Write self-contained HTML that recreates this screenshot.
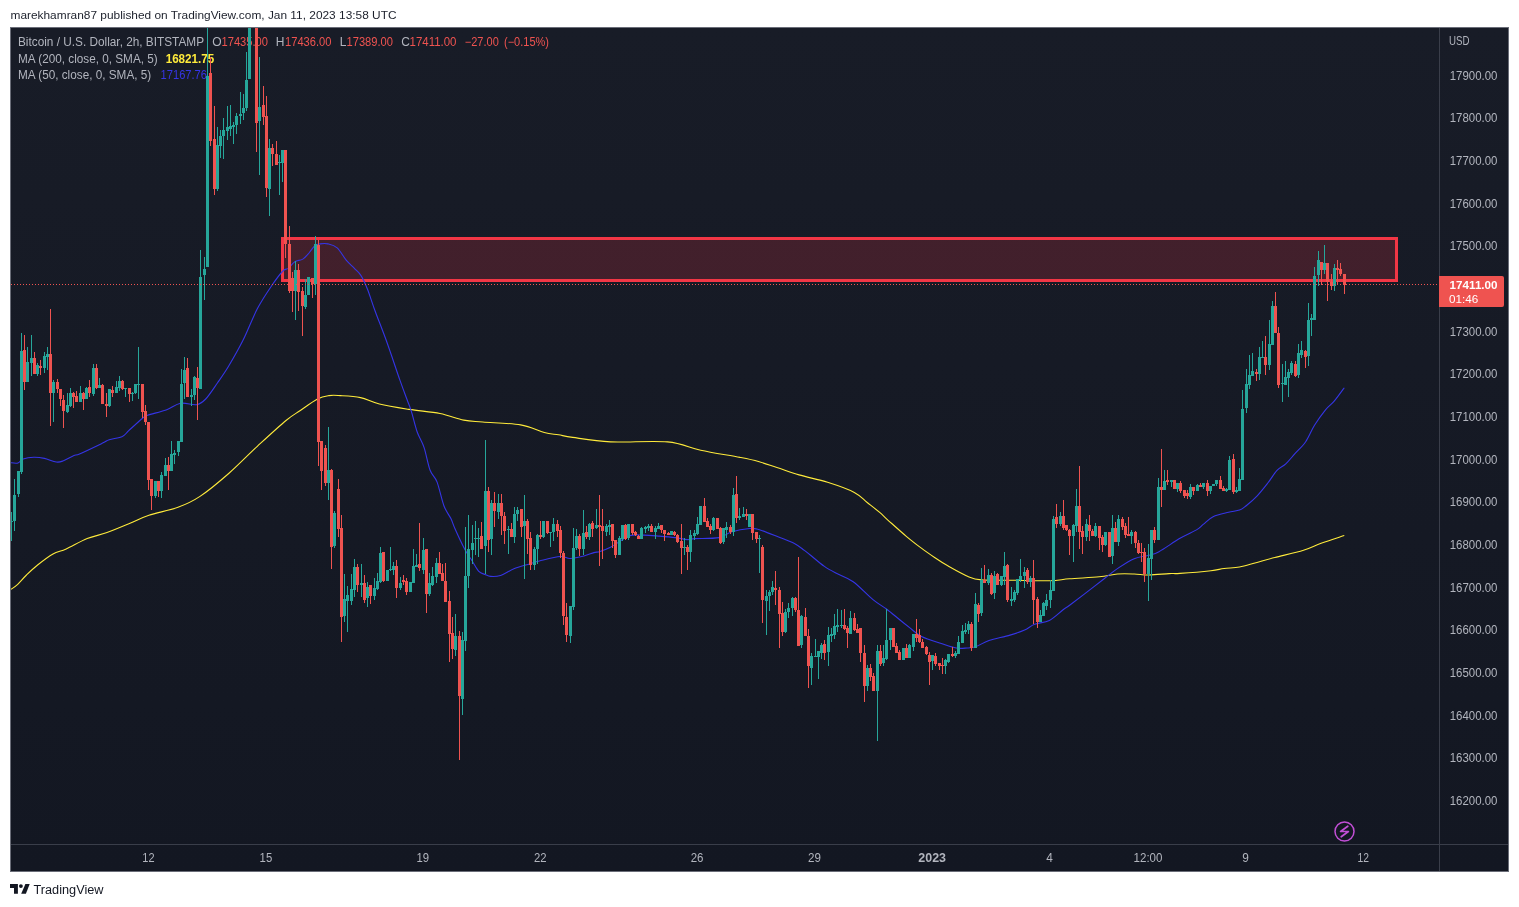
<!DOCTYPE html>
<html><head><meta charset="utf-8"><title>BTCUSD 2h chart</title>
<style>html,body{margin:0;padding:0;background:#ffffff;width:1519px;height:907px;overflow:hidden}svg{display:block;will-change:transform}</style>
</head><body><svg width="1519" height="907" viewBox="0 0 1519 907" font-family='"Liberation Sans", sans-serif'><text x="10.5" y="19" font-size="11.8" fill="#1c202b" font-weight="normal" text-anchor="start" textLength="386" lengthAdjust="spacingAndGlyphs">marekhamran87 published on TradingView.com, Jan 11, 2023 13:58 UTC</text><defs><linearGradient id="bgg" x1="0" y1="0" x2="0" y2="1"><stop offset="0" stop-color="#181c27"/><stop offset="1" stop-color="#131722"/></linearGradient></defs><rect x="10" y="27" width="1499" height="845" fill="url(#bgg)"/><rect x="10.5" y="27.5" width="1498" height="844" fill="none" stroke="#6a6d78" stroke-width="1"/><defs><clipPath id="pane"><rect x="11" y="28" width="1428" height="816"/></clipPath></defs><rect x="1439" y="28" width="1" height="843" fill="#3a3e4a"/><rect x="11" y="844" width="1497" height="1" fill="#3a3e4a"/><g clip-path="url(#pane)"><rect x="281" y="237" width="1117" height="45" fill="rgba(242,54,69,0.2)"/><rect x="282.5" y="238.5" width="1114" height="42" fill="none" stroke="#f23645" stroke-width="3"/><text x="18" y="45.6" font-size="12" fill="#b2b5be" font-weight="normal" text-anchor="start" textLength="186" lengthAdjust="spacingAndGlyphs">Bitcoin / U.S. Dollar, 2h, BITSTAMP</text><text x="212.2" y="45.6" font-size="12" fill="#b2b5be" font-weight="normal" text-anchor="start">O</text><text x="221.5" y="45.6" font-size="12" fill="#ef5350" font-weight="normal" text-anchor="start" textLength="46.5" lengthAdjust="spacingAndGlyphs">17435.00</text><text x="275.7" y="45.6" font-size="12" fill="#b2b5be" font-weight="normal" text-anchor="start">H</text><text x="285" y="45.6" font-size="12" fill="#ef5350" font-weight="normal" text-anchor="start" textLength="46.5" lengthAdjust="spacingAndGlyphs">17436.00</text><text x="339.8" y="45.6" font-size="12" fill="#b2b5be" font-weight="normal" text-anchor="start">L</text><text x="346.5" y="45.6" font-size="12" fill="#ef5350" font-weight="normal" text-anchor="start" textLength="46.5" lengthAdjust="spacingAndGlyphs">17389.00</text><text x="401.2" y="45.6" font-size="12" fill="#b2b5be" font-weight="normal" text-anchor="start">C</text><text x="409.5" y="45.6" font-size="12" fill="#ef5350" font-weight="normal" text-anchor="start" textLength="47" lengthAdjust="spacingAndGlyphs">17411.00</text><text x="464.8" y="45.6" font-size="12" fill="#ef5350" font-weight="normal" text-anchor="start" textLength="34" lengthAdjust="spacingAndGlyphs">−27.00</text><text x="504" y="45.6" font-size="12" fill="#ef5350" font-weight="normal" text-anchor="start" textLength="45" lengthAdjust="spacingAndGlyphs">(−0.15%)</text><text x="18" y="62.6" font-size="12" fill="#b2b5be" font-weight="normal" text-anchor="start" textLength="139.7" lengthAdjust="spacingAndGlyphs">MA (200, close, 0, SMA, 5)</text><text x="165.7" y="62.6" font-size="12" fill="#ffeb3b" font-weight="bold" text-anchor="start" textLength="48.5" lengthAdjust="spacingAndGlyphs">16821.75</text><text x="18" y="79.2" font-size="12" fill="#b2b5be" font-weight="normal" text-anchor="start" textLength="133.2" lengthAdjust="spacingAndGlyphs">MA (50, close, 0, SMA, 5)</text><text x="160.6" y="79.2" font-size="12" fill="#3535e6" font-weight="normal" text-anchor="start" textLength="46.4" lengthAdjust="spacingAndGlyphs">17167.76</text><path d="M11.1,589.3 C12.2,588.5 15.1,586.7 17.7,584.3 C20.3,581.9 23.2,578.2 26.5,575.0 C29.8,571.8 33.2,568.5 37.6,565.0 C42.0,561.5 48.2,556.7 53.0,554.0 C57.8,551.3 60.5,551.6 66.2,549.0 C71.9,546.4 80.4,541.4 87.2,538.6 C94.0,535.9 99.9,535.1 107.0,532.5 C114.1,529.9 123.0,526.1 130.0,523.2 C137.0,520.3 140.9,517.9 148.9,515.2 C156.9,512.6 169.5,510.4 178.0,507.3 C186.5,504.2 191.6,502.0 200.0,496.4 C208.4,490.8 219.1,481.9 228.7,473.5 C238.2,465.1 247.8,455.1 257.3,446.3 C266.9,437.5 278.8,426.5 286.0,420.5 C293.2,414.5 295.1,414.1 300.3,410.5 C305.6,406.9 312.7,401.5 317.5,399.0 C322.3,396.5 325.1,396.2 328.9,395.6 C332.7,395.0 335.1,395.3 340.4,395.6 C345.7,395.9 354.0,396.2 360.5,397.6 C367.0,399.0 371.3,402.0 379.4,404.0 C387.5,406.0 399.1,407.8 409.2,409.4 C419.3,411.0 430.9,411.7 440.0,413.5 C449.1,415.3 456.6,418.7 463.7,420.1 C470.8,421.5 473.2,421.2 482.7,422.0 C492.2,422.8 510.3,423.1 520.6,424.9 C530.9,426.6 538.0,430.9 544.3,432.5 C550.6,434.1 553.8,434.0 558.5,434.8 C563.2,435.6 564.0,436.2 572.7,437.4 C581.4,438.6 594.8,441.1 610.6,441.9 C626.4,442.6 652.5,440.5 667.5,441.9 C682.5,443.3 688.6,447.6 700.7,450.2 C712.8,452.8 730.4,455.5 740.0,457.4 C749.6,459.3 752.2,459.8 758.4,461.5 C764.5,463.2 770.1,465.3 776.9,467.5 C783.7,469.7 790.5,472.4 799.0,474.9 C807.5,477.4 818.4,479.4 827.6,482.3 C836.8,485.2 847.7,489.0 854.3,492.4 C860.9,495.8 862.9,499.1 867.2,502.5 C871.5,505.9 876.6,509.8 880.0,512.7 C883.4,515.6 883.2,515.9 887.6,519.8 C892.0,523.7 900.6,531.5 906.3,536.3 C912.0,541.1 916.9,544.8 921.7,548.4 C926.5,552.0 930.6,554.8 935.0,557.8 C939.4,560.8 942.7,563.0 948.2,566.1 C953.7,569.2 962.5,574.2 968.0,576.5 C973.5,578.8 974.3,579.3 981.3,579.9 C988.3,580.5 998.4,580.1 1009.8,580.2 C1021.1,580.3 1039.5,580.9 1049.4,580.7 C1059.4,580.5 1061.2,579.4 1069.5,578.8 C1077.8,578.1 1091.3,577.6 1099.3,576.8 C1107.3,576.0 1111.6,574.5 1117.4,574.0 C1123.2,573.5 1128.9,573.8 1134.2,574.0 C1139.5,574.2 1143.3,575.1 1149.1,575.0 C1154.9,574.9 1163.8,573.9 1169.0,573.6 C1174.2,573.3 1173.0,573.9 1180.0,573.4 C1187.0,572.9 1203.6,571.5 1210.9,570.7 C1218.2,569.9 1219.3,569.1 1224.1,568.5 C1228.9,567.9 1234.3,567.9 1239.5,567.0 C1244.7,566.1 1249.1,564.6 1255.0,563.0 C1260.9,561.4 1266.7,559.6 1274.8,557.5 C1282.9,555.4 1295.8,552.6 1303.5,550.2 C1311.2,547.8 1314.3,545.7 1321.1,543.2 C1327.9,540.8 1340.4,536.8 1344.3,535.5" fill="none" stroke="#ffeb3b" stroke-width="1.1" stroke-linejoin="round"/><path d="M10.0,462.6 C11.3,462.7 15.7,463.6 17.9,463.0 C20.1,462.4 20.6,459.9 23.2,459.0 C25.8,458.1 30.3,457.4 33.8,457.3 C37.3,457.2 40.6,457.6 44.4,458.4 C48.1,459.2 53.2,461.6 56.3,462.0 C59.4,462.4 60.0,462.1 62.9,461.0 C65.8,459.9 70.6,456.9 73.5,455.7 C76.4,454.5 75.2,455.8 80.1,453.7 C84.9,451.6 97.8,445.4 102.6,443.1 C107.4,440.8 105.9,440.8 109.2,439.7 C112.5,438.6 119.1,437.9 122.4,436.4 C125.7,434.8 125.7,433.4 129.0,430.4 C132.3,427.4 139.2,421.0 142.3,418.5 C145.4,416.0 143.6,416.6 147.6,415.2 C151.6,413.8 160.6,412.0 166.1,410.0 C171.6,408.0 175.5,404.2 180.6,403.3 C185.7,402.4 192.3,405.4 196.5,404.7 C200.7,404.0 202.2,402.6 205.7,399.0 C209.1,395.4 213.4,388.8 217.2,383.3 C221.0,377.8 224.4,373.2 228.7,366.0 C233.0,358.8 238.2,349.8 243.0,340.3 C247.8,330.8 252.5,317.9 257.3,308.8 C262.1,299.7 267.3,292.1 271.6,285.8 C275.9,279.5 280.1,273.9 282.9,271.0 C285.7,268.1 286.2,269.9 288.2,268.4 C290.2,266.8 292.4,263.2 294.8,261.7 C297.2,260.1 300.4,260.6 302.8,259.1 C305.2,257.6 307.4,254.7 309.4,252.5 C311.4,250.3 312.9,247.3 314.7,245.9 C316.5,244.5 317.8,244.2 320.0,243.9 C322.2,243.6 325.0,243.2 327.9,243.9 C330.8,244.6 334.1,245.2 337.2,247.9 C340.3,250.7 343.5,257.0 346.4,260.4 C349.3,263.8 352.0,265.9 354.4,268.4 C356.8,270.9 358.8,272.1 361.0,275.6 C363.2,279.1 365.3,283.6 367.6,289.5 C369.9,295.4 371.9,302.2 375.0,310.7 C378.1,319.2 382.0,328.7 386.2,340.3 C390.4,351.9 396.5,370.4 400.0,380.4 C403.5,390.3 405.3,394.9 407.2,400.0 C409.1,405.1 409.5,405.6 411.2,410.9 C412.9,416.2 415.0,425.6 417.1,431.7 C419.2,437.8 422.0,441.2 424.1,447.6 C426.2,454.0 427.9,464.3 430.0,470.0 C432.1,475.7 434.7,475.9 437.0,481.9 C439.3,487.8 441.6,499.6 443.9,505.7 C446.2,511.8 449.0,514.8 450.9,518.6 C452.8,522.5 452.7,523.6 455.0,528.8 C457.3,534.0 462.1,544.3 464.9,549.6 C467.7,554.9 469.6,556.9 471.9,560.5 C474.2,564.1 476.6,569.1 478.8,571.4 C481.0,573.7 482.8,573.6 484.8,574.4 C486.8,575.2 488.1,576.2 490.7,576.4 C493.3,576.6 496.6,576.7 500.6,575.4 C504.6,574.1 509.7,570.4 514.5,568.5 C519.3,566.6 525.3,565.2 529.4,564.0 C533.5,562.8 534.2,562.2 539.3,561.0 C544.4,559.8 555.1,556.9 560.2,556.5 C565.3,556.1 566.1,558.6 570.1,558.5 C574.1,558.4 580.0,557.0 584.0,556.0 C588.0,555.0 591.2,553.4 593.9,552.6 C596.6,551.9 597.3,552.4 600.0,551.5 C602.7,550.6 606.9,549.0 609.9,547.5 C612.9,546.0 614.6,544.6 617.9,542.6 C621.2,540.6 625.5,536.9 629.8,535.6 C634.1,534.4 638.8,535.0 643.7,535.1 C648.7,535.2 654.2,535.7 659.5,536.1 C664.8,536.5 670.8,537.0 675.4,537.6 C680.0,538.2 684.0,539.4 687.3,539.6 C690.6,539.8 689.9,538.9 695.2,538.6 C700.5,538.3 712.9,538.8 719.0,537.6 C725.1,536.5 726.8,533.2 731.9,531.7 C737.0,530.2 745.3,528.9 749.8,528.5 C754.3,528.1 753.9,528.1 758.7,529.5 C763.5,530.9 772.7,534.7 778.6,537.0 C784.5,539.3 790.1,541.2 794.4,543.4 C798.7,545.6 801.5,548.3 804.4,550.4 C807.2,552.5 808.2,553.3 811.5,556.0 C814.8,558.7 820.3,563.5 824.4,566.4 C828.5,569.3 831.5,570.8 836.3,573.3 C841.1,575.8 847.1,577.3 853.2,581.7 C859.3,586.1 867.4,595.0 873.0,599.6 C878.6,604.2 882.3,605.9 886.8,609.3 C891.2,612.6 895.9,616.7 899.7,619.7 C903.5,622.8 906.0,624.8 909.6,627.6 C913.2,630.4 916.2,633.9 921.5,636.5 C926.8,639.1 935.5,641.6 941.3,643.5 C947.1,645.4 951.9,647.2 956.2,648.0 C960.5,648.8 963.8,648.2 967.1,648.0 C970.4,647.8 972.5,647.8 976.1,646.5 C979.8,645.2 983.4,642.4 989.0,640.5 C994.6,638.6 1004.1,636.9 1010.0,635.1 C1015.9,633.4 1020.5,631.8 1024.6,630.0 C1028.7,628.2 1030.5,625.9 1034.6,624.3 C1038.7,622.7 1044.7,622.8 1049.4,620.4 C1054.1,618.0 1059.5,612.5 1062.8,610.0 C1066.1,607.5 1065.7,608.2 1069.3,605.5 C1072.9,602.8 1078.7,598.4 1084.6,593.9 C1090.5,589.4 1099.0,582.7 1104.5,578.5 C1110.0,574.3 1112.5,571.9 1117.4,568.6 C1122.4,565.3 1128.9,560.9 1134.2,558.7 C1139.5,556.5 1145.0,556.4 1149.1,555.2 C1153.2,554.0 1153.8,554.5 1159.0,551.7 C1164.2,548.9 1173.8,541.9 1180.0,538.3 C1186.2,534.7 1192.6,532.2 1196.5,529.9 C1200.4,527.6 1200.4,526.6 1203.2,524.4 C1206.0,522.2 1208.9,518.7 1213.1,516.7 C1217.3,514.7 1224.1,513.4 1228.5,512.3 C1232.9,511.2 1236.5,511.2 1239.5,510.1 C1242.5,509.0 1243.2,508.1 1246.2,505.7 C1249.2,503.3 1253.5,499.7 1257.2,495.8 C1260.9,491.9 1264.9,486.7 1268.2,482.5 C1271.5,478.3 1274.1,473.5 1277.0,470.4 C1279.9,467.3 1282.8,466.6 1285.8,463.8 C1288.8,461.1 1291.4,457.6 1294.7,453.9 C1298.0,450.2 1302.4,446.5 1305.7,441.7 C1309.0,436.9 1311.2,430.5 1314.5,425.2 C1317.8,419.9 1322.2,413.9 1325.5,409.8 C1328.8,405.8 1331.3,404.6 1334.4,400.9 C1337.5,397.2 1342.7,389.9 1344.3,387.7" fill="none" stroke="#3535e6" stroke-width="1.1" stroke-linejoin="round"/><g shape-rendering="crispEdges"><rect x="11" y="512" width="1" height="29" fill="#26a69a"/><rect x="10" y="521" width="3" height="1" fill="#26a69a"/><rect x="14" y="479" width="1" height="52" fill="#26a69a"/><rect x="13" y="495" width="3" height="26" fill="#26a69a"/><rect x="18" y="471" width="1" height="26" fill="#26a69a"/><rect x="17" y="471" width="3" height="23" fill="#26a69a"/><rect x="21" y="333" width="1" height="141" fill="#26a69a"/><rect x="20" y="351" width="3" height="121" fill="#26a69a"/><rect x="24" y="335" width="1" height="55" fill="#ef5350"/><rect x="23" y="350" width="3" height="32" fill="#ef5350"/><rect x="27" y="347" width="1" height="35" fill="#26a69a"/><rect x="26" y="362" width="3" height="20" fill="#26a69a"/><rect x="31" y="335" width="1" height="41" fill="#26a69a"/><rect x="30" y="358" width="3" height="5" fill="#26a69a"/><rect x="34" y="352" width="1" height="22" fill="#ef5350"/><rect x="33" y="358" width="3" height="16" fill="#ef5350"/><rect x="37" y="363" width="1" height="13" fill="#26a69a"/><rect x="36" y="365" width="3" height="9" fill="#26a69a"/><rect x="40" y="360" width="1" height="15" fill="#ef5350"/><rect x="39" y="366" width="3" height="2" fill="#ef5350"/><rect x="44" y="352" width="1" height="21" fill="#26a69a"/><rect x="43" y="356" width="3" height="12" fill="#26a69a"/><rect x="47" y="347" width="1" height="23" fill="#26a69a"/><rect x="46" y="354" width="3" height="3" fill="#26a69a"/><rect x="50" y="309" width="1" height="117" fill="#ef5350"/><rect x="49" y="354" width="3" height="39" fill="#ef5350"/><rect x="53" y="380" width="1" height="42" fill="#26a69a"/><rect x="52" y="382" width="3" height="11" fill="#26a69a"/><rect x="57" y="379" width="1" height="14" fill="#ef5350"/><rect x="56" y="382" width="3" height="7" fill="#ef5350"/><rect x="60" y="389" width="1" height="17" fill="#ef5350"/><rect x="59" y="389" width="3" height="10" fill="#ef5350"/><rect x="63" y="395" width="1" height="33" fill="#ef5350"/><rect x="62" y="400" width="3" height="11" fill="#ef5350"/><rect x="67" y="393" width="1" height="20" fill="#26a69a"/><rect x="66" y="405" width="3" height="7" fill="#26a69a"/><rect x="70" y="388" width="1" height="19" fill="#26a69a"/><rect x="69" y="393" width="3" height="13" fill="#26a69a"/><rect x="73" y="392" width="1" height="16" fill="#ef5350"/><rect x="72" y="393" width="3" height="4" fill="#ef5350"/><rect x="76" y="391" width="1" height="11" fill="#ef5350"/><rect x="75" y="396" width="3" height="6" fill="#ef5350"/><rect x="80" y="386" width="1" height="16" fill="#26a69a"/><rect x="79" y="393" width="3" height="9" fill="#26a69a"/><rect x="83" y="392" width="1" height="18" fill="#ef5350"/><rect x="82" y="393" width="3" height="6" fill="#ef5350"/><rect x="86" y="387" width="1" height="12" fill="#26a69a"/><rect x="85" y="388" width="3" height="11" fill="#26a69a"/><rect x="89" y="380" width="1" height="17" fill="#ef5350"/><rect x="88" y="387" width="3" height="6" fill="#ef5350"/><rect x="93" y="364" width="1" height="32" fill="#26a69a"/><rect x="92" y="368" width="3" height="26" fill="#26a69a"/><rect x="96" y="364" width="1" height="25" fill="#ef5350"/><rect x="95" y="368" width="3" height="20" fill="#ef5350"/><rect x="99" y="378" width="1" height="10" fill="#26a69a"/><rect x="98" y="385" width="3" height="3" fill="#26a69a"/><rect x="102" y="384" width="1" height="20" fill="#ef5350"/><rect x="101" y="385" width="3" height="19" fill="#ef5350"/><rect x="106" y="393" width="1" height="24" fill="#ef5350"/><rect x="105" y="404" width="3" height="2" fill="#ef5350"/><rect x="109" y="389" width="1" height="18" fill="#26a69a"/><rect x="108" y="389" width="3" height="17" fill="#26a69a"/><rect x="112" y="386" width="1" height="11" fill="#ef5350"/><rect x="111" y="390" width="3" height="3" fill="#ef5350"/><rect x="116" y="381" width="1" height="12" fill="#26a69a"/><rect x="115" y="387" width="3" height="6" fill="#26a69a"/><rect x="119" y="376" width="1" height="15" fill="#26a69a"/><rect x="118" y="381" width="3" height="7" fill="#26a69a"/><rect x="122" y="380" width="1" height="10" fill="#ef5350"/><rect x="121" y="381" width="3" height="8" fill="#ef5350"/><rect x="125" y="388" width="1" height="9" fill="#26a69a"/><rect x="124" y="388" width="3" height="1" fill="#26a69a"/><rect x="129" y="388" width="1" height="14" fill="#ef5350"/><rect x="128" y="388" width="3" height="6" fill="#ef5350"/><rect x="132" y="392" width="1" height="9" fill="#26a69a"/><rect x="131" y="393" width="3" height="1" fill="#26a69a"/><rect x="135" y="384" width="1" height="10" fill="#26a69a"/><rect x="134" y="384" width="3" height="9" fill="#26a69a"/><rect x="138" y="347" width="1" height="52" fill="#26a69a"/><rect x="137" y="384" width="3" height="1" fill="#26a69a"/><rect x="142" y="384" width="1" height="34" fill="#ef5350"/><rect x="141" y="384" width="3" height="28" fill="#ef5350"/><rect x="145" y="405" width="1" height="20" fill="#ef5350"/><rect x="144" y="411" width="3" height="11" fill="#ef5350"/><rect x="148" y="422" width="1" height="68" fill="#ef5350"/><rect x="147" y="422" width="3" height="58" fill="#ef5350"/><rect x="151" y="479" width="1" height="31" fill="#ef5350"/><rect x="150" y="479" width="3" height="17" fill="#ef5350"/><rect x="155" y="481" width="1" height="17" fill="#26a69a"/><rect x="154" y="481" width="3" height="15" fill="#26a69a"/><rect x="158" y="481" width="1" height="16" fill="#ef5350"/><rect x="157" y="481" width="3" height="10" fill="#ef5350"/><rect x="161" y="472" width="1" height="26" fill="#26a69a"/><rect x="160" y="475" width="3" height="16" fill="#26a69a"/><rect x="165" y="458" width="1" height="18" fill="#26a69a"/><rect x="164" y="465" width="3" height="11" fill="#26a69a"/><rect x="168" y="457" width="1" height="33" fill="#ef5350"/><rect x="167" y="465" width="3" height="6" fill="#ef5350"/><rect x="171" y="441" width="1" height="30" fill="#26a69a"/><rect x="170" y="454" width="3" height="17" fill="#26a69a"/><rect x="174" y="450" width="1" height="14" fill="#26a69a"/><rect x="173" y="453" width="3" height="2" fill="#26a69a"/><rect x="178" y="441" width="1" height="15" fill="#26a69a"/><rect x="177" y="441" width="3" height="11" fill="#26a69a"/><rect x="181" y="369" width="1" height="73" fill="#26a69a"/><rect x="180" y="384" width="3" height="58" fill="#26a69a"/><rect x="184" y="357" width="1" height="42" fill="#26a69a"/><rect x="183" y="370" width="3" height="13" fill="#26a69a"/><rect x="187" y="358" width="1" height="39" fill="#ef5350"/><rect x="186" y="368" width="3" height="29" fill="#ef5350"/><rect x="191" y="389" width="1" height="17" fill="#26a69a"/><rect x="190" y="395" width="3" height="2" fill="#26a69a"/><rect x="194" y="376" width="1" height="24" fill="#26a69a"/><rect x="193" y="377" width="3" height="18" fill="#26a69a"/><rect x="197" y="367" width="1" height="53" fill="#ef5350"/><rect x="196" y="378" width="3" height="10" fill="#ef5350"/><rect x="200" y="250" width="1" height="139" fill="#26a69a"/><rect x="199" y="277" width="3" height="112" fill="#26a69a"/><rect x="204" y="257" width="1" height="43" fill="#26a69a"/><rect x="203" y="269" width="3" height="6" fill="#26a69a"/><rect x="207" y="27" width="1" height="240" fill="#26a69a"/><rect x="206" y="76" width="3" height="191" fill="#26a69a"/><rect x="210" y="57" width="1" height="89" fill="#ef5350"/><rect x="209" y="73" width="3" height="68" fill="#ef5350"/><rect x="214" y="106" width="1" height="89" fill="#ef5350"/><rect x="213" y="139" width="3" height="50" fill="#ef5350"/><rect x="217" y="127" width="1" height="64" fill="#26a69a"/><rect x="216" y="145" width="3" height="44" fill="#26a69a"/><rect x="220" y="130" width="1" height="28" fill="#26a69a"/><rect x="219" y="136" width="3" height="10" fill="#26a69a"/><rect x="223" y="118" width="1" height="41" fill="#26a69a"/><rect x="222" y="130" width="3" height="6" fill="#26a69a"/><rect x="227" y="106" width="1" height="34" fill="#26a69a"/><rect x="226" y="127" width="3" height="4" fill="#26a69a"/><rect x="230" y="105" width="1" height="31" fill="#26a69a"/><rect x="229" y="126" width="3" height="3" fill="#26a69a"/><rect x="233" y="122" width="1" height="22" fill="#26a69a"/><rect x="232" y="125" width="3" height="2" fill="#26a69a"/><rect x="236" y="113" width="1" height="21" fill="#26a69a"/><rect x="235" y="116" width="3" height="9" fill="#26a69a"/><rect x="240" y="92" width="1" height="32" fill="#26a69a"/><rect x="239" y="114" width="3" height="2" fill="#26a69a"/><rect x="243" y="94" width="1" height="26" fill="#26a69a"/><rect x="242" y="108" width="3" height="5" fill="#26a69a"/><rect x="246" y="52" width="1" height="59" fill="#26a69a"/><rect x="245" y="80" width="3" height="28" fill="#26a69a"/><rect x="249" y="17" width="1" height="62" fill="#26a69a"/><rect x="248" y="17" width="3" height="62" fill="#26a69a"/><rect x="253" y="15" width="1" height="8" fill="#26a69a"/><rect x="252" y="17" width="3" height="4" fill="#26a69a"/><rect x="256" y="17" width="1" height="135" fill="#ef5350"/><rect x="255" y="17" width="3" height="106" fill="#ef5350"/><rect x="259" y="57" width="1" height="118" fill="#26a69a"/><rect x="258" y="107" width="3" height="14" fill="#26a69a"/><rect x="263" y="86" width="1" height="39" fill="#ef5350"/><rect x="262" y="105" width="3" height="12" fill="#ef5350"/><rect x="266" y="96" width="1" height="101" fill="#ef5350"/><rect x="265" y="116" width="3" height="72" fill="#ef5350"/><rect x="269" y="139" width="1" height="77" fill="#26a69a"/><rect x="268" y="148" width="3" height="41" fill="#26a69a"/><rect x="272" y="144" width="1" height="22" fill="#ef5350"/><rect x="271" y="148" width="3" height="6" fill="#ef5350"/><rect x="276" y="141" width="1" height="24" fill="#ef5350"/><rect x="275" y="154" width="3" height="11" fill="#ef5350"/><rect x="279" y="155" width="1" height="40" fill="#26a69a"/><rect x="278" y="162" width="3" height="1" fill="#26a69a"/><rect x="282" y="150" width="1" height="32" fill="#26a69a"/><rect x="281" y="150" width="3" height="13" fill="#26a69a"/><rect x="285" y="150" width="1" height="108" fill="#ef5350"/><rect x="284" y="150" width="3" height="94" fill="#ef5350"/><rect x="289" y="226" width="1" height="67" fill="#ef5350"/><rect x="288" y="244" width="3" height="47" fill="#ef5350"/><rect x="292" y="272" width="1" height="40" fill="#ef5350"/><rect x="291" y="278" width="3" height="13" fill="#ef5350"/><rect x="295" y="261" width="1" height="59" fill="#26a69a"/><rect x="294" y="270" width="3" height="21" fill="#26a69a"/><rect x="298" y="264" width="1" height="47" fill="#ef5350"/><rect x="297" y="270" width="3" height="22" fill="#ef5350"/><rect x="302" y="287" width="1" height="49" fill="#ef5350"/><rect x="301" y="291" width="3" height="15" fill="#ef5350"/><rect x="305" y="279" width="1" height="30" fill="#26a69a"/><rect x="304" y="295" width="3" height="12" fill="#26a69a"/><rect x="308" y="277" width="1" height="18" fill="#26a69a"/><rect x="307" y="277" width="3" height="18" fill="#26a69a"/><rect x="312" y="278" width="1" height="20" fill="#ef5350"/><rect x="311" y="278" width="3" height="6" fill="#ef5350"/><rect x="315" y="236" width="1" height="59" fill="#26a69a"/><rect x="314" y="244" width="3" height="40" fill="#26a69a"/><rect x="318" y="240" width="1" height="226" fill="#ef5350"/><rect x="317" y="245" width="3" height="197" fill="#ef5350"/><rect x="321" y="441" width="1" height="49" fill="#ef5350"/><rect x="320" y="441" width="3" height="30" fill="#ef5350"/><rect x="325" y="445" width="1" height="41" fill="#ef5350"/><rect x="324" y="448" width="3" height="35" fill="#ef5350"/><rect x="328" y="427" width="1" height="73" fill="#26a69a"/><rect x="327" y="470" width="3" height="13" fill="#26a69a"/><rect x="331" y="469" width="1" height="100" fill="#ef5350"/><rect x="330" y="470" width="3" height="77" fill="#ef5350"/><rect x="334" y="511" width="1" height="37" fill="#26a69a"/><rect x="333" y="513" width="3" height="33" fill="#26a69a"/><rect x="338" y="479" width="1" height="58" fill="#ef5350"/><rect x="337" y="489" width="3" height="40" fill="#ef5350"/><rect x="341" y="515" width="1" height="127" fill="#ef5350"/><rect x="340" y="528" width="3" height="89" fill="#ef5350"/><rect x="344" y="574" width="1" height="48" fill="#26a69a"/><rect x="343" y="599" width="3" height="17" fill="#26a69a"/><rect x="347" y="586" width="1" height="46" fill="#26a69a"/><rect x="346" y="595" width="3" height="6" fill="#26a69a"/><rect x="351" y="574" width="1" height="31" fill="#26a69a"/><rect x="350" y="589" width="3" height="12" fill="#26a69a"/><rect x="354" y="559" width="1" height="38" fill="#26a69a"/><rect x="353" y="567" width="3" height="23" fill="#26a69a"/><rect x="357" y="564" width="1" height="28" fill="#ef5350"/><rect x="356" y="567" width="3" height="18" fill="#ef5350"/><rect x="361" y="564" width="1" height="33" fill="#26a69a"/><rect x="360" y="583" width="3" height="2" fill="#26a69a"/><rect x="364" y="575" width="1" height="28" fill="#ef5350"/><rect x="363" y="583" width="3" height="17" fill="#ef5350"/><rect x="367" y="582" width="1" height="25" fill="#26a69a"/><rect x="366" y="587" width="3" height="11" fill="#26a69a"/><rect x="370" y="585" width="1" height="19" fill="#ef5350"/><rect x="369" y="585" width="3" height="11" fill="#ef5350"/><rect x="374" y="578" width="1" height="22" fill="#26a69a"/><rect x="373" y="588" width="3" height="8" fill="#26a69a"/><rect x="377" y="573" width="1" height="17" fill="#26a69a"/><rect x="376" y="581" width="3" height="8" fill="#26a69a"/><rect x="380" y="547" width="1" height="36" fill="#26a69a"/><rect x="379" y="553" width="3" height="29" fill="#26a69a"/><rect x="383" y="552" width="1" height="30" fill="#ef5350"/><rect x="382" y="552" width="3" height="29" fill="#ef5350"/><rect x="387" y="570" width="1" height="11" fill="#26a69a"/><rect x="386" y="570" width="3" height="11" fill="#26a69a"/><rect x="390" y="547" width="1" height="24" fill="#26a69a"/><rect x="389" y="569" width="3" height="1" fill="#26a69a"/><rect x="393" y="562" width="1" height="13" fill="#26a69a"/><rect x="392" y="566" width="3" height="4" fill="#26a69a"/><rect x="396" y="560" width="1" height="38" fill="#ef5350"/><rect x="395" y="566" width="3" height="22" fill="#ef5350"/><rect x="400" y="577" width="1" height="13" fill="#26a69a"/><rect x="399" y="583" width="3" height="5" fill="#26a69a"/><rect x="403" y="575" width="1" height="10" fill="#ef5350"/><rect x="402" y="580" width="3" height="2" fill="#ef5350"/><rect x="406" y="578" width="1" height="17" fill="#ef5350"/><rect x="405" y="581" width="3" height="11" fill="#ef5350"/><rect x="410" y="582" width="1" height="10" fill="#26a69a"/><rect x="409" y="582" width="3" height="10" fill="#26a69a"/><rect x="413" y="549" width="1" height="34" fill="#26a69a"/><rect x="412" y="566" width="3" height="17" fill="#26a69a"/><rect x="416" y="554" width="1" height="13" fill="#26a69a"/><rect x="415" y="565" width="3" height="2" fill="#26a69a"/><rect x="419" y="523" width="1" height="48" fill="#ef5350"/><rect x="418" y="564" width="3" height="4" fill="#ef5350"/><rect x="423" y="538" width="1" height="36" fill="#26a69a"/><rect x="422" y="550" width="3" height="20" fill="#26a69a"/><rect x="426" y="549" width="1" height="64" fill="#ef5350"/><rect x="425" y="549" width="3" height="45" fill="#ef5350"/><rect x="429" y="573" width="1" height="23" fill="#26a69a"/><rect x="428" y="583" width="3" height="11" fill="#26a69a"/><rect x="432" y="567" width="1" height="19" fill="#26a69a"/><rect x="431" y="576" width="3" height="9" fill="#26a69a"/><rect x="436" y="558" width="1" height="25" fill="#26a69a"/><rect x="435" y="563" width="3" height="14" fill="#26a69a"/><rect x="439" y="552" width="1" height="22" fill="#ef5350"/><rect x="438" y="563" width="3" height="11" fill="#ef5350"/><rect x="442" y="564" width="1" height="17" fill="#ef5350"/><rect x="441" y="573" width="3" height="8" fill="#ef5350"/><rect x="445" y="563" width="1" height="39" fill="#ef5350"/><rect x="444" y="581" width="3" height="21" fill="#ef5350"/><rect x="449" y="591" width="1" height="71" fill="#ef5350"/><rect x="448" y="601" width="3" height="33" fill="#ef5350"/><rect x="452" y="617" width="1" height="42" fill="#ef5350"/><rect x="451" y="633" width="3" height="16" fill="#ef5350"/><rect x="455" y="614" width="1" height="42" fill="#26a69a"/><rect x="454" y="636" width="3" height="14" fill="#26a69a"/><rect x="459" y="631" width="1" height="129" fill="#ef5350"/><rect x="458" y="636" width="3" height="60" fill="#ef5350"/><rect x="462" y="632" width="1" height="83" fill="#26a69a"/><rect x="461" y="640" width="3" height="59" fill="#26a69a"/><rect x="465" y="527" width="1" height="124" fill="#26a69a"/><rect x="464" y="576" width="3" height="65" fill="#26a69a"/><rect x="468" y="515" width="1" height="73" fill="#26a69a"/><rect x="467" y="549" width="3" height="27" fill="#26a69a"/><rect x="472" y="525" width="1" height="39" fill="#26a69a"/><rect x="471" y="543" width="3" height="7" fill="#26a69a"/><rect x="475" y="521" width="1" height="34" fill="#26a69a"/><rect x="474" y="538" width="3" height="1" fill="#26a69a"/><rect x="478" y="528" width="1" height="29" fill="#26a69a"/><rect x="477" y="538" width="3" height="1" fill="#26a69a"/><rect x="481" y="522" width="1" height="27" fill="#ef5350"/><rect x="480" y="536" width="3" height="13" fill="#ef5350"/><rect x="485" y="440" width="1" height="134" fill="#26a69a"/><rect x="484" y="491" width="3" height="55" fill="#26a69a"/><rect x="488" y="487" width="1" height="65" fill="#ef5350"/><rect x="487" y="491" width="3" height="49" fill="#ef5350"/><rect x="491" y="500" width="1" height="55" fill="#26a69a"/><rect x="490" y="503" width="3" height="36" fill="#26a69a"/><rect x="494" y="492" width="1" height="35" fill="#ef5350"/><rect x="493" y="503" width="3" height="8" fill="#ef5350"/><rect x="498" y="494" width="1" height="25" fill="#26a69a"/><rect x="497" y="503" width="3" height="9" fill="#26a69a"/><rect x="501" y="494" width="1" height="41" fill="#ef5350"/><rect x="500" y="503" width="3" height="13" fill="#ef5350"/><rect x="504" y="512" width="1" height="32" fill="#ef5350"/><rect x="503" y="516" width="3" height="15" fill="#ef5350"/><rect x="508" y="526" width="1" height="28" fill="#26a69a"/><rect x="507" y="529" width="3" height="1" fill="#26a69a"/><rect x="511" y="523" width="1" height="14" fill="#ef5350"/><rect x="510" y="529" width="3" height="8" fill="#ef5350"/><rect x="514" y="507" width="1" height="36" fill="#26a69a"/><rect x="513" y="514" width="3" height="23" fill="#26a69a"/><rect x="517" y="507" width="1" height="14" fill="#26a69a"/><rect x="516" y="510" width="3" height="4" fill="#26a69a"/><rect x="521" y="509" width="1" height="28" fill="#ef5350"/><rect x="520" y="509" width="3" height="18" fill="#ef5350"/><rect x="524" y="495" width="1" height="84" fill="#26a69a"/><rect x="523" y="521" width="3" height="5" fill="#26a69a"/><rect x="527" y="519" width="1" height="35" fill="#ef5350"/><rect x="526" y="521" width="3" height="18" fill="#ef5350"/><rect x="530" y="532" width="1" height="38" fill="#ef5350"/><rect x="529" y="538" width="3" height="27" fill="#ef5350"/><rect x="534" y="547" width="1" height="23" fill="#26a69a"/><rect x="533" y="549" width="3" height="16" fill="#26a69a"/><rect x="537" y="534" width="1" height="30" fill="#26a69a"/><rect x="536" y="535" width="3" height="14" fill="#26a69a"/><rect x="540" y="521" width="1" height="18" fill="#ef5350"/><rect x="539" y="535" width="3" height="2" fill="#ef5350"/><rect x="543" y="521" width="1" height="17" fill="#26a69a"/><rect x="542" y="521" width="3" height="16" fill="#26a69a"/><rect x="547" y="521" width="1" height="13" fill="#ef5350"/><rect x="546" y="521" width="3" height="12" fill="#ef5350"/><rect x="550" y="532" width="1" height="15" fill="#26a69a"/><rect x="549" y="532" width="3" height="1" fill="#26a69a"/><rect x="553" y="518" width="1" height="23" fill="#26a69a"/><rect x="552" y="524" width="3" height="8" fill="#26a69a"/><rect x="557" y="520" width="1" height="17" fill="#ef5350"/><rect x="556" y="524" width="3" height="7" fill="#ef5350"/><rect x="560" y="526" width="1" height="32" fill="#ef5350"/><rect x="559" y="530" width="3" height="23" fill="#ef5350"/><rect x="563" y="551" width="1" height="74" fill="#ef5350"/><rect x="562" y="553" width="3" height="63" fill="#ef5350"/><rect x="566" y="603" width="1" height="39" fill="#ef5350"/><rect x="565" y="617" width="3" height="18" fill="#ef5350"/><rect x="570" y="606" width="1" height="37" fill="#26a69a"/><rect x="569" y="606" width="3" height="30" fill="#26a69a"/><rect x="573" y="528" width="1" height="82" fill="#26a69a"/><rect x="572" y="548" width="3" height="59" fill="#26a69a"/><rect x="576" y="529" width="1" height="21" fill="#26a69a"/><rect x="575" y="536" width="3" height="12" fill="#26a69a"/><rect x="579" y="534" width="1" height="22" fill="#ef5350"/><rect x="578" y="536" width="3" height="13" fill="#ef5350"/><rect x="583" y="510" width="1" height="45" fill="#26a69a"/><rect x="582" y="533" width="3" height="16" fill="#26a69a"/><rect x="586" y="526" width="1" height="13" fill="#ef5350"/><rect x="585" y="532" width="3" height="5" fill="#ef5350"/><rect x="589" y="523" width="1" height="17" fill="#26a69a"/><rect x="588" y="524" width="3" height="13" fill="#26a69a"/><rect x="592" y="521" width="1" height="16" fill="#ef5350"/><rect x="591" y="523" width="3" height="6" fill="#ef5350"/><rect x="596" y="509" width="1" height="20" fill="#26a69a"/><rect x="595" y="525" width="3" height="3" fill="#26a69a"/><rect x="599" y="495" width="1" height="71" fill="#ef5350"/><rect x="598" y="525" width="3" height="2" fill="#ef5350"/><rect x="602" y="509" width="1" height="50" fill="#ef5350"/><rect x="601" y="526" width="3" height="5" fill="#ef5350"/><rect x="606" y="524" width="1" height="12" fill="#26a69a"/><rect x="605" y="526" width="3" height="6" fill="#26a69a"/><rect x="609" y="520" width="1" height="15" fill="#26a69a"/><rect x="608" y="525" width="3" height="2" fill="#26a69a"/><rect x="612" y="524" width="1" height="24" fill="#ef5350"/><rect x="611" y="524" width="3" height="17" fill="#ef5350"/><rect x="615" y="540" width="1" height="18" fill="#ef5350"/><rect x="614" y="540" width="3" height="15" fill="#ef5350"/><rect x="619" y="536" width="1" height="19" fill="#26a69a"/><rect x="618" y="538" width="3" height="17" fill="#26a69a"/><rect x="622" y="525" width="1" height="16" fill="#26a69a"/><rect x="621" y="525" width="3" height="14" fill="#26a69a"/><rect x="625" y="524" width="1" height="16" fill="#ef5350"/><rect x="624" y="525" width="3" height="14" fill="#ef5350"/><rect x="628" y="524" width="1" height="16" fill="#26a69a"/><rect x="627" y="524" width="3" height="14" fill="#26a69a"/><rect x="632" y="524" width="1" height="11" fill="#ef5350"/><rect x="631" y="524" width="3" height="9" fill="#ef5350"/><rect x="635" y="531" width="1" height="5" fill="#ef5350"/><rect x="634" y="532" width="3" height="3" fill="#ef5350"/><rect x="638" y="535" width="1" height="4" fill="#ef5350"/><rect x="637" y="536" width="3" height="3" fill="#ef5350"/><rect x="641" y="527" width="1" height="12" fill="#26a69a"/><rect x="640" y="528" width="3" height="11" fill="#26a69a"/><rect x="645" y="526" width="1" height="7" fill="#26a69a"/><rect x="644" y="527" width="3" height="2" fill="#26a69a"/><rect x="648" y="524" width="1" height="7" fill="#26a69a"/><rect x="647" y="526" width="3" height="2" fill="#26a69a"/><rect x="651" y="524" width="1" height="8" fill="#ef5350"/><rect x="650" y="526" width="3" height="6" fill="#ef5350"/><rect x="655" y="526" width="1" height="13" fill="#26a69a"/><rect x="654" y="528" width="3" height="4" fill="#26a69a"/><rect x="658" y="523" width="1" height="6" fill="#26a69a"/><rect x="657" y="526" width="3" height="3" fill="#26a69a"/><rect x="661" y="525" width="1" height="8" fill="#ef5350"/><rect x="660" y="525" width="3" height="5" fill="#ef5350"/><rect x="664" y="530" width="1" height="11" fill="#ef5350"/><rect x="663" y="530" width="3" height="4" fill="#ef5350"/><rect x="668" y="532" width="1" height="3" fill="#ef5350"/><rect x="667" y="533" width="3" height="2" fill="#ef5350"/><rect x="671" y="531" width="1" height="4" fill="#26a69a"/><rect x="670" y="531" width="3" height="4" fill="#26a69a"/><rect x="674" y="531" width="1" height="5" fill="#ef5350"/><rect x="673" y="532" width="3" height="3" fill="#ef5350"/><rect x="677" y="534" width="1" height="9" fill="#ef5350"/><rect x="676" y="535" width="3" height="7" fill="#ef5350"/><rect x="681" y="524" width="1" height="50" fill="#ef5350"/><rect x="680" y="541" width="3" height="7" fill="#ef5350"/><rect x="684" y="538" width="1" height="17" fill="#26a69a"/><rect x="683" y="547" width="3" height="1" fill="#26a69a"/><rect x="687" y="545" width="1" height="25" fill="#ef5350"/><rect x="686" y="547" width="3" height="5" fill="#ef5350"/><rect x="690" y="530" width="1" height="32" fill="#26a69a"/><rect x="689" y="535" width="3" height="17" fill="#26a69a"/><rect x="694" y="530" width="1" height="10" fill="#26a69a"/><rect x="693" y="533" width="3" height="3" fill="#26a69a"/><rect x="697" y="517" width="1" height="18" fill="#26a69a"/><rect x="696" y="524" width="3" height="10" fill="#26a69a"/><rect x="700" y="506" width="1" height="19" fill="#26a69a"/><rect x="699" y="506" width="3" height="19" fill="#26a69a"/><rect x="704" y="498" width="1" height="24" fill="#ef5350"/><rect x="703" y="506" width="3" height="16" fill="#ef5350"/><rect x="707" y="518" width="1" height="9" fill="#ef5350"/><rect x="706" y="521" width="3" height="6" fill="#ef5350"/><rect x="710" y="524" width="1" height="10" fill="#ef5350"/><rect x="709" y="526" width="3" height="4" fill="#ef5350"/><rect x="713" y="517" width="1" height="14" fill="#26a69a"/><rect x="712" y="518" width="3" height="12" fill="#26a69a"/><rect x="717" y="518" width="1" height="11" fill="#ef5350"/><rect x="716" y="518" width="3" height="11" fill="#ef5350"/><rect x="720" y="527" width="1" height="17" fill="#ef5350"/><rect x="719" y="528" width="3" height="15" fill="#ef5350"/><rect x="723" y="528" width="1" height="16" fill="#26a69a"/><rect x="722" y="528" width="3" height="14" fill="#26a69a"/><rect x="726" y="522" width="1" height="16" fill="#26a69a"/><rect x="725" y="527" width="3" height="3" fill="#26a69a"/><rect x="730" y="525" width="1" height="9" fill="#ef5350"/><rect x="729" y="527" width="3" height="5" fill="#ef5350"/><rect x="733" y="488" width="1" height="48" fill="#26a69a"/><rect x="732" y="495" width="3" height="37" fill="#26a69a"/><rect x="736" y="476" width="1" height="47" fill="#ef5350"/><rect x="735" y="494" width="3" height="24" fill="#ef5350"/><rect x="739" y="508" width="1" height="12" fill="#26a69a"/><rect x="738" y="516" width="3" height="2" fill="#26a69a"/><rect x="743" y="507" width="1" height="10" fill="#26a69a"/><rect x="742" y="514" width="3" height="3" fill="#26a69a"/><rect x="746" y="509" width="1" height="11" fill="#ef5350"/><rect x="745" y="514" width="3" height="2" fill="#ef5350"/><rect x="749" y="514" width="1" height="13" fill="#26a69a"/><rect x="748" y="514" width="3" height="13" fill="#26a69a"/><rect x="752" y="514" width="1" height="26" fill="#ef5350"/><rect x="751" y="514" width="3" height="19" fill="#ef5350"/><rect x="756" y="532" width="1" height="11" fill="#ef5350"/><rect x="755" y="532" width="3" height="7" fill="#ef5350"/><rect x="759" y="535" width="1" height="38" fill="#26a69a"/><rect x="758" y="538" width="3" height="1" fill="#26a69a"/><rect x="762" y="545" width="1" height="78" fill="#ef5350"/><rect x="761" y="547" width="3" height="53" fill="#ef5350"/><rect x="766" y="590" width="1" height="45" fill="#26a69a"/><rect x="765" y="596" width="3" height="5" fill="#26a69a"/><rect x="769" y="590" width="1" height="21" fill="#26a69a"/><rect x="768" y="592" width="3" height="4" fill="#26a69a"/><rect x="772" y="581" width="1" height="14" fill="#26a69a"/><rect x="771" y="587" width="3" height="5" fill="#26a69a"/><rect x="775" y="571" width="1" height="34" fill="#ef5350"/><rect x="774" y="588" width="3" height="2" fill="#ef5350"/><rect x="779" y="587" width="1" height="61" fill="#ef5350"/><rect x="778" y="590" width="3" height="24" fill="#ef5350"/><rect x="782" y="602" width="1" height="34" fill="#ef5350"/><rect x="781" y="613" width="3" height="19" fill="#ef5350"/><rect x="785" y="609" width="1" height="24" fill="#26a69a"/><rect x="784" y="612" width="3" height="20" fill="#26a69a"/><rect x="788" y="603" width="1" height="15" fill="#26a69a"/><rect x="787" y="608" width="3" height="4" fill="#26a69a"/><rect x="792" y="597" width="1" height="19" fill="#26a69a"/><rect x="791" y="598" width="3" height="10" fill="#26a69a"/><rect x="795" y="597" width="1" height="15" fill="#ef5350"/><rect x="794" y="598" width="3" height="12" fill="#ef5350"/><rect x="798" y="557" width="1" height="89" fill="#ef5350"/><rect x="797" y="610" width="3" height="36" fill="#ef5350"/><rect x="801" y="615" width="1" height="33" fill="#26a69a"/><rect x="800" y="616" width="3" height="29" fill="#26a69a"/><rect x="805" y="608" width="1" height="28" fill="#ef5350"/><rect x="804" y="617" width="3" height="19" fill="#ef5350"/><rect x="808" y="629" width="1" height="59" fill="#ef5350"/><rect x="807" y="636" width="3" height="30" fill="#ef5350"/><rect x="811" y="653" width="1" height="32" fill="#26a69a"/><rect x="810" y="656" width="3" height="12" fill="#26a69a"/><rect x="815" y="639" width="1" height="18" fill="#26a69a"/><rect x="814" y="656" width="3" height="1" fill="#26a69a"/><rect x="818" y="651" width="1" height="28" fill="#26a69a"/><rect x="817" y="651" width="3" height="6" fill="#26a69a"/><rect x="821" y="643" width="1" height="16" fill="#26a69a"/><rect x="820" y="645" width="3" height="8" fill="#26a69a"/><rect x="824" y="640" width="1" height="20" fill="#ef5350"/><rect x="823" y="644" width="3" height="9" fill="#ef5350"/><rect x="828" y="627" width="1" height="39" fill="#26a69a"/><rect x="827" y="635" width="3" height="17" fill="#26a69a"/><rect x="831" y="628" width="1" height="14" fill="#26a69a"/><rect x="830" y="634" width="3" height="2" fill="#26a69a"/><rect x="834" y="614" width="1" height="25" fill="#26a69a"/><rect x="833" y="626" width="3" height="9" fill="#26a69a"/><rect x="837" y="609" width="1" height="23" fill="#26a69a"/><rect x="836" y="625" width="3" height="2" fill="#26a69a"/><rect x="841" y="610" width="1" height="18" fill="#26a69a"/><rect x="840" y="625" width="3" height="1" fill="#26a69a"/><rect x="844" y="609" width="1" height="21" fill="#ef5350"/><rect x="843" y="625" width="3" height="4" fill="#ef5350"/><rect x="847" y="626" width="1" height="22" fill="#ef5350"/><rect x="846" y="628" width="3" height="5" fill="#ef5350"/><rect x="850" y="611" width="1" height="23" fill="#26a69a"/><rect x="849" y="618" width="3" height="16" fill="#26a69a"/><rect x="854" y="613" width="1" height="18" fill="#ef5350"/><rect x="853" y="618" width="3" height="12" fill="#ef5350"/><rect x="857" y="624" width="1" height="9" fill="#ef5350"/><rect x="856" y="629" width="3" height="4" fill="#ef5350"/><rect x="860" y="628" width="1" height="34" fill="#ef5350"/><rect x="859" y="628" width="3" height="25" fill="#ef5350"/><rect x="864" y="645" width="1" height="57" fill="#ef5350"/><rect x="863" y="653" width="3" height="33" fill="#ef5350"/><rect x="867" y="665" width="1" height="26" fill="#26a69a"/><rect x="866" y="668" width="3" height="18" fill="#26a69a"/><rect x="870" y="664" width="1" height="17" fill="#ef5350"/><rect x="869" y="668" width="3" height="9" fill="#ef5350"/><rect x="873" y="673" width="1" height="18" fill="#ef5350"/><rect x="872" y="676" width="3" height="15" fill="#ef5350"/><rect x="877" y="645" width="1" height="96" fill="#26a69a"/><rect x="876" y="651" width="3" height="40" fill="#26a69a"/><rect x="880" y="645" width="1" height="21" fill="#ef5350"/><rect x="879" y="651" width="3" height="13" fill="#ef5350"/><rect x="883" y="645" width="1" height="21" fill="#26a69a"/><rect x="882" y="658" width="3" height="5" fill="#26a69a"/><rect x="886" y="609" width="1" height="51" fill="#26a69a"/><rect x="885" y="640" width="3" height="19" fill="#26a69a"/><rect x="890" y="628" width="1" height="22" fill="#26a69a"/><rect x="889" y="628" width="3" height="12" fill="#26a69a"/><rect x="893" y="628" width="1" height="19" fill="#ef5350"/><rect x="892" y="628" width="3" height="19" fill="#ef5350"/><rect x="896" y="643" width="1" height="10" fill="#ef5350"/><rect x="895" y="646" width="3" height="7" fill="#ef5350"/><rect x="899" y="650" width="1" height="10" fill="#ef5350"/><rect x="898" y="652" width="3" height="8" fill="#ef5350"/><rect x="903" y="648" width="1" height="12" fill="#26a69a"/><rect x="902" y="648" width="3" height="12" fill="#26a69a"/><rect x="906" y="644" width="1" height="14" fill="#ef5350"/><rect x="905" y="648" width="3" height="10" fill="#ef5350"/><rect x="909" y="644" width="1" height="14" fill="#26a69a"/><rect x="908" y="645" width="3" height="13" fill="#26a69a"/><rect x="913" y="634" width="1" height="17" fill="#26a69a"/><rect x="912" y="634" width="3" height="13" fill="#26a69a"/><rect x="916" y="619" width="1" height="23" fill="#ef5350"/><rect x="915" y="634" width="3" height="4" fill="#ef5350"/><rect x="919" y="629" width="1" height="14" fill="#ef5350"/><rect x="918" y="635" width="3" height="7" fill="#ef5350"/><rect x="922" y="639" width="1" height="9" fill="#ef5350"/><rect x="921" y="642" width="3" height="6" fill="#ef5350"/><rect x="926" y="646" width="1" height="9" fill="#ef5350"/><rect x="925" y="647" width="3" height="7" fill="#ef5350"/><rect x="929" y="652" width="1" height="33" fill="#ef5350"/><rect x="928" y="655" width="3" height="7" fill="#ef5350"/><rect x="932" y="655" width="1" height="15" fill="#26a69a"/><rect x="931" y="655" width="3" height="6" fill="#26a69a"/><rect x="935" y="653" width="1" height="13" fill="#ef5350"/><rect x="934" y="656" width="3" height="8" fill="#ef5350"/><rect x="939" y="663" width="1" height="7" fill="#ef5350"/><rect x="938" y="663" width="3" height="3" fill="#ef5350"/><rect x="942" y="658" width="1" height="16" fill="#ef5350"/><rect x="941" y="665" width="3" height="1" fill="#ef5350"/><rect x="945" y="659" width="1" height="15" fill="#26a69a"/><rect x="944" y="660" width="3" height="6" fill="#26a69a"/><rect x="948" y="654" width="1" height="9" fill="#26a69a"/><rect x="947" y="654" width="3" height="8" fill="#26a69a"/><rect x="952" y="647" width="1" height="10" fill="#ef5350"/><rect x="951" y="654" width="3" height="2" fill="#ef5350"/><rect x="955" y="651" width="1" height="7" fill="#26a69a"/><rect x="954" y="653" width="3" height="3" fill="#26a69a"/><rect x="958" y="636" width="1" height="18" fill="#26a69a"/><rect x="957" y="642" width="3" height="12" fill="#26a69a"/><rect x="962" y="625" width="1" height="18" fill="#26a69a"/><rect x="961" y="631" width="3" height="12" fill="#26a69a"/><rect x="965" y="623" width="1" height="11" fill="#26a69a"/><rect x="964" y="630" width="3" height="2" fill="#26a69a"/><rect x="968" y="621" width="1" height="13" fill="#26a69a"/><rect x="967" y="624" width="3" height="6" fill="#26a69a"/><rect x="971" y="622" width="1" height="29" fill="#ef5350"/><rect x="970" y="624" width="3" height="24" fill="#ef5350"/><rect x="975" y="593" width="1" height="55" fill="#26a69a"/><rect x="974" y="604" width="3" height="44" fill="#26a69a"/><rect x="978" y="603" width="1" height="19" fill="#ef5350"/><rect x="977" y="605" width="3" height="9" fill="#ef5350"/><rect x="981" y="568" width="1" height="48" fill="#26a69a"/><rect x="980" y="580" width="3" height="33" fill="#26a69a"/><rect x="984" y="565" width="1" height="18" fill="#ef5350"/><rect x="983" y="580" width="3" height="3" fill="#ef5350"/><rect x="988" y="569" width="1" height="16" fill="#26a69a"/><rect x="987" y="575" width="3" height="8" fill="#26a69a"/><rect x="991" y="573" width="1" height="22" fill="#ef5350"/><rect x="990" y="575" width="3" height="19" fill="#ef5350"/><rect x="994" y="571" width="1" height="28" fill="#26a69a"/><rect x="993" y="576" width="3" height="17" fill="#26a69a"/><rect x="997" y="573" width="1" height="12" fill="#ef5350"/><rect x="996" y="574" width="3" height="11" fill="#ef5350"/><rect x="1001" y="576" width="1" height="10" fill="#26a69a"/><rect x="1000" y="576" width="3" height="9" fill="#26a69a"/><rect x="1004" y="552" width="1" height="33" fill="#26a69a"/><rect x="1003" y="566" width="3" height="11" fill="#26a69a"/><rect x="1007" y="564" width="1" height="38" fill="#ef5350"/><rect x="1006" y="565" width="3" height="35" fill="#ef5350"/><rect x="1011" y="587" width="1" height="19" fill="#26a69a"/><rect x="1010" y="599" width="3" height="2" fill="#26a69a"/><rect x="1014" y="590" width="1" height="12" fill="#26a69a"/><rect x="1013" y="592" width="3" height="8" fill="#26a69a"/><rect x="1017" y="579" width="1" height="16" fill="#26a69a"/><rect x="1016" y="579" width="3" height="14" fill="#26a69a"/><rect x="1020" y="559" width="1" height="23" fill="#26a69a"/><rect x="1019" y="576" width="3" height="4" fill="#26a69a"/><rect x="1024" y="567" width="1" height="21" fill="#26a69a"/><rect x="1023" y="572" width="3" height="4" fill="#26a69a"/><rect x="1027" y="568" width="1" height="16" fill="#ef5350"/><rect x="1026" y="570" width="3" height="12" fill="#ef5350"/><rect x="1030" y="576" width="1" height="11" fill="#26a69a"/><rect x="1029" y="578" width="3" height="4" fill="#26a69a"/><rect x="1033" y="560" width="1" height="64" fill="#ef5350"/><rect x="1032" y="578" width="3" height="22" fill="#ef5350"/><rect x="1037" y="597" width="1" height="31" fill="#ef5350"/><rect x="1036" y="599" width="3" height="23" fill="#ef5350"/><rect x="1040" y="610" width="1" height="12" fill="#26a69a"/><rect x="1039" y="615" width="3" height="7" fill="#26a69a"/><rect x="1043" y="602" width="1" height="14" fill="#26a69a"/><rect x="1042" y="603" width="3" height="13" fill="#26a69a"/><rect x="1046" y="594" width="1" height="16" fill="#26a69a"/><rect x="1045" y="600" width="3" height="6" fill="#26a69a"/><rect x="1050" y="580" width="1" height="28" fill="#26a69a"/><rect x="1049" y="590" width="3" height="10" fill="#26a69a"/><rect x="1053" y="516" width="1" height="75" fill="#26a69a"/><rect x="1052" y="519" width="3" height="72" fill="#26a69a"/><rect x="1056" y="504" width="1" height="24" fill="#ef5350"/><rect x="1055" y="517" width="3" height="7" fill="#ef5350"/><rect x="1060" y="512" width="1" height="14" fill="#26a69a"/><rect x="1059" y="516" width="3" height="8" fill="#26a69a"/><rect x="1063" y="500" width="1" height="30" fill="#ef5350"/><rect x="1062" y="516" width="3" height="12" fill="#ef5350"/><rect x="1066" y="525" width="1" height="6" fill="#ef5350"/><rect x="1065" y="525" width="3" height="5" fill="#ef5350"/><rect x="1069" y="529" width="1" height="26" fill="#ef5350"/><rect x="1068" y="530" width="3" height="6" fill="#ef5350"/><rect x="1073" y="524" width="1" height="38" fill="#26a69a"/><rect x="1072" y="525" width="3" height="11" fill="#26a69a"/><rect x="1076" y="489" width="1" height="43" fill="#26a69a"/><rect x="1075" y="506" width="3" height="20" fill="#26a69a"/><rect x="1079" y="466" width="1" height="83" fill="#ef5350"/><rect x="1078" y="506" width="3" height="26" fill="#ef5350"/><rect x="1082" y="526" width="1" height="28" fill="#ef5350"/><rect x="1081" y="531" width="3" height="6" fill="#ef5350"/><rect x="1086" y="519" width="1" height="22" fill="#26a69a"/><rect x="1085" y="524" width="3" height="13" fill="#26a69a"/><rect x="1089" y="515" width="1" height="26" fill="#ef5350"/><rect x="1088" y="525" width="3" height="6" fill="#ef5350"/><rect x="1092" y="529" width="1" height="7" fill="#ef5350"/><rect x="1091" y="531" width="3" height="5" fill="#ef5350"/><rect x="1095" y="523" width="1" height="14" fill="#26a69a"/><rect x="1094" y="526" width="3" height="10" fill="#26a69a"/><rect x="1099" y="526" width="1" height="24" fill="#ef5350"/><rect x="1098" y="526" width="3" height="12" fill="#ef5350"/><rect x="1102" y="535" width="1" height="17" fill="#ef5350"/><rect x="1101" y="537" width="3" height="8" fill="#ef5350"/><rect x="1105" y="532" width="1" height="14" fill="#26a69a"/><rect x="1104" y="532" width="3" height="13" fill="#26a69a"/><rect x="1109" y="532" width="1" height="25" fill="#ef5350"/><rect x="1108" y="532" width="3" height="25" fill="#ef5350"/><rect x="1112" y="515" width="1" height="49" fill="#26a69a"/><rect x="1111" y="528" width="3" height="28" fill="#26a69a"/><rect x="1115" y="522" width="1" height="20" fill="#ef5350"/><rect x="1114" y="528" width="3" height="14" fill="#ef5350"/><rect x="1118" y="515" width="1" height="31" fill="#26a69a"/><rect x="1117" y="519" width="3" height="23" fill="#26a69a"/><rect x="1122" y="517" width="1" height="13" fill="#ef5350"/><rect x="1121" y="519" width="3" height="8" fill="#ef5350"/><rect x="1125" y="523" width="1" height="15" fill="#ef5350"/><rect x="1124" y="526" width="3" height="9" fill="#ef5350"/><rect x="1128" y="517" width="1" height="19" fill="#ef5350"/><rect x="1127" y="534" width="3" height="2" fill="#ef5350"/><rect x="1131" y="530" width="1" height="14" fill="#26a69a"/><rect x="1130" y="532" width="3" height="4" fill="#26a69a"/><rect x="1135" y="531" width="1" height="17" fill="#ef5350"/><rect x="1134" y="532" width="3" height="11" fill="#ef5350"/><rect x="1138" y="540" width="1" height="14" fill="#ef5350"/><rect x="1137" y="543" width="3" height="10" fill="#ef5350"/><rect x="1141" y="543" width="1" height="19" fill="#ef5350"/><rect x="1140" y="552" width="3" height="1" fill="#ef5350"/><rect x="1144" y="548" width="1" height="34" fill="#ef5350"/><rect x="1143" y="552" width="3" height="22" fill="#ef5350"/><rect x="1148" y="544" width="1" height="57" fill="#26a69a"/><rect x="1147" y="558" width="3" height="16" fill="#26a69a"/><rect x="1151" y="530" width="1" height="50" fill="#26a69a"/><rect x="1150" y="530" width="3" height="29" fill="#26a69a"/><rect x="1154" y="527" width="1" height="16" fill="#ef5350"/><rect x="1153" y="530" width="3" height="10" fill="#ef5350"/><rect x="1158" y="478" width="1" height="62" fill="#26a69a"/><rect x="1157" y="487" width="3" height="53" fill="#26a69a"/><rect x="1161" y="449" width="1" height="58" fill="#ef5350"/><rect x="1160" y="487" width="3" height="3" fill="#ef5350"/><rect x="1164" y="470" width="1" height="20" fill="#26a69a"/><rect x="1163" y="481" width="3" height="9" fill="#26a69a"/><rect x="1167" y="470" width="1" height="15" fill="#ef5350"/><rect x="1166" y="480" width="3" height="2" fill="#ef5350"/><rect x="1171" y="480" width="1" height="7" fill="#26a69a"/><rect x="1170" y="480" width="3" height="2" fill="#26a69a"/><rect x="1174" y="480" width="1" height="9" fill="#ef5350"/><rect x="1173" y="480" width="3" height="9" fill="#ef5350"/><rect x="1177" y="483" width="1" height="9" fill="#26a69a"/><rect x="1176" y="483" width="3" height="6" fill="#26a69a"/><rect x="1180" y="481" width="1" height="12" fill="#ef5350"/><rect x="1179" y="483" width="3" height="8" fill="#ef5350"/><rect x="1184" y="490" width="1" height="8" fill="#ef5350"/><rect x="1183" y="490" width="3" height="6" fill="#ef5350"/><rect x="1187" y="490" width="1" height="9" fill="#ef5350"/><rect x="1186" y="493" width="3" height="3" fill="#ef5350"/><rect x="1190" y="484" width="1" height="15" fill="#26a69a"/><rect x="1189" y="487" width="3" height="10" fill="#26a69a"/><rect x="1193" y="487" width="1" height="8" fill="#ef5350"/><rect x="1192" y="487" width="3" height="4" fill="#ef5350"/><rect x="1197" y="484" width="1" height="7" fill="#26a69a"/><rect x="1196" y="485" width="3" height="6" fill="#26a69a"/><rect x="1200" y="483" width="1" height="4" fill="#ef5350"/><rect x="1199" y="485" width="3" height="2" fill="#ef5350"/><rect x="1203" y="483" width="1" height="6" fill="#26a69a"/><rect x="1202" y="483" width="3" height="4" fill="#26a69a"/><rect x="1207" y="480" width="1" height="16" fill="#ef5350"/><rect x="1206" y="483" width="3" height="8" fill="#ef5350"/><rect x="1210" y="486" width="1" height="8" fill="#26a69a"/><rect x="1209" y="486" width="3" height="5" fill="#26a69a"/><rect x="1213" y="484" width="1" height="2" fill="#26a69a"/><rect x="1212" y="484" width="3" height="2" fill="#26a69a"/><rect x="1216" y="480" width="1" height="6" fill="#26a69a"/><rect x="1215" y="480" width="3" height="4" fill="#26a69a"/><rect x="1220" y="476" width="1" height="13" fill="#ef5350"/><rect x="1219" y="480" width="3" height="9" fill="#ef5350"/><rect x="1223" y="486" width="1" height="5" fill="#ef5350"/><rect x="1222" y="488" width="3" height="3" fill="#ef5350"/><rect x="1226" y="488" width="1" height="4" fill="#26a69a"/><rect x="1225" y="489" width="3" height="2" fill="#26a69a"/><rect x="1229" y="456" width="1" height="34" fill="#26a69a"/><rect x="1228" y="460" width="3" height="30" fill="#26a69a"/><rect x="1233" y="454" width="1" height="40" fill="#ef5350"/><rect x="1232" y="459" width="3" height="33" fill="#ef5350"/><rect x="1236" y="487" width="1" height="6" fill="#26a69a"/><rect x="1235" y="490" width="3" height="2" fill="#26a69a"/><rect x="1239" y="468" width="1" height="23" fill="#26a69a"/><rect x="1238" y="479" width="3" height="12" fill="#26a69a"/><rect x="1242" y="390" width="1" height="90" fill="#26a69a"/><rect x="1241" y="409" width="3" height="71" fill="#26a69a"/><rect x="1246" y="369" width="1" height="44" fill="#26a69a"/><rect x="1245" y="384" width="3" height="24" fill="#26a69a"/><rect x="1249" y="355" width="1" height="34" fill="#26a69a"/><rect x="1248" y="375" width="3" height="10" fill="#26a69a"/><rect x="1252" y="353" width="1" height="23" fill="#26a69a"/><rect x="1251" y="371" width="3" height="5" fill="#26a69a"/><rect x="1256" y="369" width="1" height="12" fill="#ef5350"/><rect x="1255" y="372" width="3" height="2" fill="#ef5350"/><rect x="1259" y="347" width="1" height="33" fill="#26a69a"/><rect x="1258" y="357" width="3" height="17" fill="#26a69a"/><rect x="1262" y="341" width="1" height="17" fill="#26a69a"/><rect x="1261" y="357" width="3" height="1" fill="#26a69a"/><rect x="1265" y="336" width="1" height="39" fill="#ef5350"/><rect x="1264" y="357" width="3" height="8" fill="#ef5350"/><rect x="1269" y="320" width="1" height="50" fill="#26a69a"/><rect x="1268" y="344" width="3" height="21" fill="#26a69a"/><rect x="1272" y="301" width="1" height="44" fill="#26a69a"/><rect x="1271" y="306" width="3" height="39" fill="#26a69a"/><rect x="1275" y="292" width="1" height="41" fill="#ef5350"/><rect x="1274" y="306" width="3" height="27" fill="#ef5350"/><rect x="1278" y="327" width="1" height="61" fill="#ef5350"/><rect x="1277" y="333" width="3" height="52" fill="#ef5350"/><rect x="1282" y="364" width="1" height="38" fill="#26a69a"/><rect x="1281" y="383" width="3" height="1" fill="#26a69a"/><rect x="1285" y="361" width="1" height="24" fill="#26a69a"/><rect x="1284" y="377" width="3" height="8" fill="#26a69a"/><rect x="1288" y="369" width="1" height="28" fill="#26a69a"/><rect x="1287" y="372" width="3" height="6" fill="#26a69a"/><rect x="1291" y="361" width="1" height="14" fill="#26a69a"/><rect x="1290" y="363" width="3" height="10" fill="#26a69a"/><rect x="1295" y="361" width="1" height="16" fill="#ef5350"/><rect x="1294" y="364" width="3" height="12" fill="#ef5350"/><rect x="1298" y="344" width="1" height="34" fill="#26a69a"/><rect x="1297" y="353" width="3" height="22" fill="#26a69a"/><rect x="1301" y="341" width="1" height="17" fill="#26a69a"/><rect x="1300" y="350" width="3" height="5" fill="#26a69a"/><rect x="1305" y="350" width="1" height="18" fill="#ef5350"/><rect x="1304" y="351" width="3" height="6" fill="#ef5350"/><rect x="1308" y="303" width="1" height="63" fill="#26a69a"/><rect x="1307" y="320" width="3" height="36" fill="#26a69a"/><rect x="1311" y="314" width="1" height="22" fill="#26a69a"/><rect x="1310" y="318" width="3" height="2" fill="#26a69a"/><rect x="1314" y="267" width="1" height="53" fill="#26a69a"/><rect x="1313" y="276" width="3" height="44" fill="#26a69a"/><rect x="1318" y="251" width="1" height="35" fill="#26a69a"/><rect x="1317" y="260" width="3" height="15" fill="#26a69a"/><rect x="1321" y="262" width="1" height="23" fill="#ef5350"/><rect x="1320" y="262" width="3" height="8" fill="#ef5350"/><rect x="1324" y="245" width="1" height="29" fill="#26a69a"/><rect x="1323" y="263" width="3" height="7" fill="#26a69a"/><rect x="1327" y="263" width="1" height="38" fill="#ef5350"/><rect x="1326" y="263" width="3" height="19" fill="#ef5350"/><rect x="1331" y="274" width="1" height="16" fill="#ef5350"/><rect x="1330" y="282" width="3" height="4" fill="#ef5350"/><rect x="1334" y="264" width="1" height="27" fill="#26a69a"/><rect x="1333" y="268" width="3" height="18" fill="#26a69a"/><rect x="1337" y="260" width="1" height="24" fill="#ef5350"/><rect x="1336" y="268" width="3" height="2" fill="#ef5350"/><rect x="1340" y="263" width="1" height="13" fill="#ef5350"/><rect x="1339" y="269" width="3" height="5" fill="#ef5350"/><rect x="1344" y="274" width="1" height="20" fill="#ef5350"/><rect x="1343" y="274" width="3" height="11" fill="#ef5350"/></g><line x1="11" y1="284.5" x2="1439" y2="284.5" stroke="#ef5350" stroke-width="1" stroke-dasharray="1 2"/><circle cx="1344.5" cy="831.5" r="9.5" fill="none" stroke="#c24fd6" stroke-width="1.5"/><path d="M1347.8,826.2 L1340.6,831.5 L1348.4,831.5 L1341.2,836.8" fill="none" stroke="#c24fd6" stroke-width="1.7" stroke-linejoin="round" stroke-linecap="round"/></g><text x="1449" y="45.2" font-size="12.3" fill="#b2b5be" font-weight="normal" text-anchor="start" textLength="20.5" lengthAdjust="spacingAndGlyphs">USD</text><text x="1449.7" y="79.6" font-size="12.3" fill="#b2b5be" font-weight="normal" text-anchor="start" textLength="47.7" lengthAdjust="spacingAndGlyphs">17900.00</text><text x="1449.7" y="122.275" font-size="12.3" fill="#b2b5be" font-weight="normal" text-anchor="start" textLength="47.7" lengthAdjust="spacingAndGlyphs">17800.00</text><text x="1449.7" y="164.95000000000002" font-size="12.3" fill="#b2b5be" font-weight="normal" text-anchor="start" textLength="47.7" lengthAdjust="spacingAndGlyphs">17700.00</text><text x="1449.7" y="207.625" font-size="12.3" fill="#b2b5be" font-weight="normal" text-anchor="start" textLength="47.7" lengthAdjust="spacingAndGlyphs">17600.00</text><text x="1449.7" y="250.3" font-size="12.3" fill="#b2b5be" font-weight="normal" text-anchor="start" textLength="47.7" lengthAdjust="spacingAndGlyphs">17500.00</text><text x="1449.7" y="335.65000000000003" font-size="12.3" fill="#b2b5be" font-weight="normal" text-anchor="start" textLength="47.7" lengthAdjust="spacingAndGlyphs">17300.00</text><text x="1449.7" y="378.32500000000005" font-size="12.3" fill="#b2b5be" font-weight="normal" text-anchor="start" textLength="47.7" lengthAdjust="spacingAndGlyphs">17200.00</text><text x="1449.7" y="421.00000000000006" font-size="12.3" fill="#b2b5be" font-weight="normal" text-anchor="start" textLength="47.7" lengthAdjust="spacingAndGlyphs">17100.00</text><text x="1449.7" y="463.675" font-size="12.3" fill="#b2b5be" font-weight="normal" text-anchor="start" textLength="47.7" lengthAdjust="spacingAndGlyphs">17000.00</text><text x="1449.7" y="506.35" font-size="12.3" fill="#b2b5be" font-weight="normal" text-anchor="start" textLength="47.7" lengthAdjust="spacingAndGlyphs">16900.00</text><text x="1449.7" y="549.025" font-size="12.3" fill="#b2b5be" font-weight="normal" text-anchor="start" textLength="47.7" lengthAdjust="spacingAndGlyphs">16800.00</text><text x="1449.7" y="591.7" font-size="12.3" fill="#b2b5be" font-weight="normal" text-anchor="start" textLength="47.7" lengthAdjust="spacingAndGlyphs">16700.00</text><text x="1449.7" y="634.375" font-size="12.3" fill="#b2b5be" font-weight="normal" text-anchor="start" textLength="47.7" lengthAdjust="spacingAndGlyphs">16600.00</text><text x="1449.7" y="677.0500000000001" font-size="12.3" fill="#b2b5be" font-weight="normal" text-anchor="start" textLength="47.7" lengthAdjust="spacingAndGlyphs">16500.00</text><text x="1449.7" y="719.725" font-size="12.3" fill="#b2b5be" font-weight="normal" text-anchor="start" textLength="47.7" lengthAdjust="spacingAndGlyphs">16400.00</text><text x="1449.7" y="762.4000000000001" font-size="12.3" fill="#b2b5be" font-weight="normal" text-anchor="start" textLength="47.7" lengthAdjust="spacingAndGlyphs">16300.00</text><text x="1449.7" y="805.075" font-size="12.3" fill="#b2b5be" font-weight="normal" text-anchor="start" textLength="47.7" lengthAdjust="spacingAndGlyphs">16200.00</text><path d="M1439,276 H1502 a2,2 0 0 1 2,2 V305 a2,2 0 0 1 -2,2 H1439 Z" fill="#ef5350"/><text x="1449.6" y="288.6" font-size="11.5" fill="#ffffff" font-weight="bold" text-anchor="start" textLength="48" lengthAdjust="spacingAndGlyphs">17411.00</text><text x="1449" y="302.5" font-size="11.5" fill="#ffffff" font-weight="normal" text-anchor="start" textLength="29.3" lengthAdjust="spacingAndGlyphs">01:46</text><text x="142.3" y="862.3" font-size="12.5" fill="#b2b5be" font-weight="normal" text-anchor="start" textLength="12.2" lengthAdjust="spacingAndGlyphs">12</text><text x="259.6" y="862.3" font-size="12.5" fill="#b2b5be" font-weight="normal" text-anchor="start" textLength="12.6" lengthAdjust="spacingAndGlyphs">15</text><text x="416.5" y="862.3" font-size="12.5" fill="#b2b5be" font-weight="normal" text-anchor="start" textLength="12.6" lengthAdjust="spacingAndGlyphs">19</text><text x="533.9" y="862.3" font-size="12.5" fill="#b2b5be" font-weight="normal" text-anchor="start" textLength="12.6" lengthAdjust="spacingAndGlyphs">22</text><text x="690.7" y="862.3" font-size="12.5" fill="#b2b5be" font-weight="normal" text-anchor="start" textLength="12.8" lengthAdjust="spacingAndGlyphs">26</text><text x="808.05" y="862.3" font-size="12.5" fill="#b2b5be" font-weight="normal" text-anchor="start" textLength="12.9" lengthAdjust="spacingAndGlyphs">29</text><text x="918.35" y="862.3" font-size="12.5" fill="#b2b5be" font-weight="bold" text-anchor="start" textLength="27.7" lengthAdjust="spacingAndGlyphs">2023</text><text x="1046.3" y="862.3" font-size="12.5" fill="#b2b5be" font-weight="normal" text-anchor="start" textLength="6.6" lengthAdjust="spacingAndGlyphs">4</text><text x="1133.55" y="862.3" font-size="12.5" fill="#b2b5be" font-weight="normal" text-anchor="start" textLength="28.9" lengthAdjust="spacingAndGlyphs">12:00</text><text x="1242.2" y="862.3" font-size="12.5" fill="#b2b5be" font-weight="normal" text-anchor="start" textLength="6.6" lengthAdjust="spacingAndGlyphs">9</text><text x="1357.55" y="862.3" font-size="12.5" fill="#b2b5be" font-weight="normal" text-anchor="start" textLength="11.5" lengthAdjust="spacingAndGlyphs">12</text><path d="M10,884 H17.9 V893.8 H14 V888 H10 Z" fill="#131722"/><circle cx="20.9" cy="886.1" r="1.9" fill="#131722"/><path d="M25.4,884 L29.7,884 L25.9,893.8 L21.2,893.8 Z" fill="#131722"/><text x="33.5" y="893.7" font-size="12.5" fill="#131722" font-weight="normal" text-anchor="start" textLength="70" lengthAdjust="spacingAndGlyphs">TradingView</text></svg></body></html>
